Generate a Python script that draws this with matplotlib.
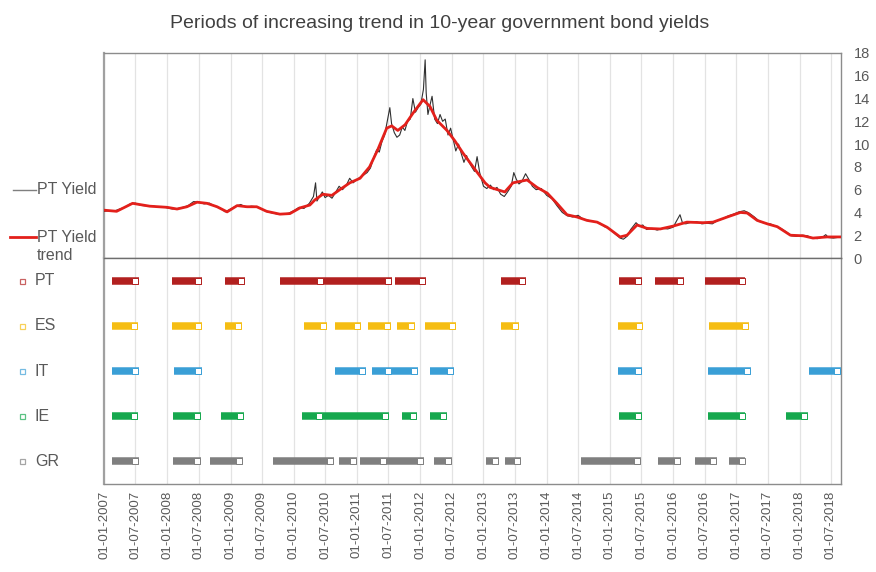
import matplotlib
matplotlib.use("Agg")
import matplotlib.pyplot as plt
import matplotlib.dates as mdates
import matplotlib.transforms as mtransforms
from matplotlib.lines import Line2D
import numpy as np
import pandas as pd

plt.rcParams['font.family'] = ['Liberation Sans', 'DejaVu Sans']

# ---------------- data ----------------
trend_dates = ["2007-01-01", "2007-03-15", "2007-06-15", "2007-09-22", "2008-01-01", "2008-02-27",
               "2008-04-24", "2008-06-21", "2008-08-18", "2008-10-15", "2008-12-12", "2009-02-08",
               "2009-04-06", "2009-06-01", "2009-07-28", "2009-10-13", "2009-12-10", "2010-02-06",
               "2010-04-04", "2010-05-03", "2010-06-18", "2010-08-09", "2010-09-24", "2010-11-21",
               "2011-01-19", "2011-03-15", "2011-05-01", "2011-06-22", "2011-07-21", "2011-08-25",
               "2011-10-06", "2011-11-20", "2012-01-18", "2012-02-27", "2012-04-06", "2012-06-04",
               "2012-07-19", "2012-09-05", "2012-11-02", "2013-01-10", "2013-02-08", "2013-05-04",
               "2013-06-20", "2013-09-10", "2013-11-06", "2014-01-04", "2014-03-01", "2014-04-28",
               "2014-06-25", "2014-08-22", "2014-10-19", "2014-12-16", "2015-03-01", "2015-04-10",
               "2015-06-07", "2015-08-04", "2015-10-19", "2016-01-01", "2016-03-21", "2016-06-22",
               "2016-08-19", "2016-11-09", "2017-01-24", "2017-03-04", "2017-05-01", "2017-06-28",
               "2017-08-25", "2017-11-09", "2018-01-22", "2018-03-19", "2018-06-09", "2018-08-28"]
trend_values = [4.2, 4.1, 4.8, 4.55, 4.45, 4.3,
                4.5, 4.9, 4.8, 4.5, 4.05, 4.6,
                4.5, 4.5, 4.1, 3.85, 3.9, 4.4,
                4.65, 5.1, 5.6, 5.5, 6.0, 6.6,
                7.0, 8.0, 9.5, 11.4, 11.6, 11.2,
                11.7, 12.7, 13.9, 13.3, 12.1, 11.2,
                10.3, 9.2, 8.0, 6.6, 6.2, 5.8,
                6.6, 6.85, 6.2, 5.7, 4.8, 3.8,
                3.6, 3.3, 3.15, 2.7, 1.85, 2.0,
                2.9, 2.6, 2.55, 2.8, 3.15, 3.1,
                3.15, 3.6, 4.0, 3.95, 3.3, 3.0,
                2.75, 2.0, 1.95, 1.75, 1.85, 1.85]

raw_dates = ["2007-01-01", "2007-02-01", "2007-03-01", "2007-04-01", "2007-05-01", "2007-06-01",
             "2007-07-01", "2007-08-01", "2007-09-01", "2007-10-01", "2007-11-01", "2007-12-01",
             "2008-01-01", "2008-02-01", "2008-03-01", "2008-04-01", "2008-05-01", "2008-06-01",
             "2008-07-01", "2008-08-01", "2008-09-01", "2008-10-01", "2008-11-01", "2008-12-01",
             "2009-01-01", "2009-02-01", "2009-03-01", "2009-04-01", "2009-05-01", "2009-06-01",
             "2009-07-01", "2009-08-01", "2009-09-01", "2009-10-01", "2009-11-01", "2009-12-01",
             "2010-01-01", "2010-02-01", "2010-03-01", "2010-04-01", "2010-04-25", "2010-05-07",
             "2010-05-15", "2010-06-01", "2010-06-15", "2010-07-01", "2010-07-20", "2010-08-10",
             "2010-09-01", "2010-09-20", "2010-10-10", "2010-11-01", "2010-11-20", "2010-12-10",
             "2011-01-01", "2011-01-20", "2011-02-10", "2011-03-01", "2011-03-20", "2011-04-10",
             "2011-04-25", "2011-05-10", "2011-05-25", "2011-06-10", "2011-06-25", "2011-07-10",
             "2011-07-20", "2011-08-05", "2011-08-20", "2011-09-05", "2011-09-20", "2011-10-05",
             "2011-10-20", "2011-11-05", "2011-11-20", "2011-12-05", "2011-12-20", "2012-01-05",
             "2012-01-20", "2012-01-30", "2012-02-05", "2012-02-15", "2012-02-28", "2012-03-10",
             "2012-03-25", "2012-04-10", "2012-04-25", "2012-05-10", "2012-05-25", "2012-06-10",
             "2012-06-25", "2012-07-10", "2012-07-25", "2012-08-10", "2012-08-25", "2012-09-10",
             "2012-09-25", "2012-10-10", "2012-10-25", "2012-11-10", "2012-11-25", "2012-12-10",
             "2013-01-01", "2013-01-20", "2013-02-10", "2013-03-01", "2013-03-20", "2013-04-10",
             "2013-05-01", "2013-05-20", "2013-06-10", "2013-06-25", "2013-07-10", "2013-07-25",
             "2013-08-10", "2013-09-01", "2013-09-20", "2013-10-10", "2013-11-01", "2013-12-01",
             "2014-01-01", "2014-02-01", "2014-03-01", "2014-04-01", "2014-05-01", "2014-06-01",
             "2014-07-01", "2014-08-01", "2014-09-01", "2014-10-01", "2014-11-01", "2014-12-01",
             "2015-01-01", "2015-02-01", "2015-03-01", "2015-03-20", "2015-04-10", "2015-05-01",
             "2015-06-01", "2015-06-20", "2015-07-10", "2015-08-01", "2015-09-01", "2015-10-01",
             "2015-11-01", "2015-12-01", "2016-01-01", "2016-02-10", "2016-02-25", "2016-03-15",
             "2016-04-15", "2016-05-15", "2016-06-15", "2016-07-15", "2016-08-15", "2016-09-15",
             "2016-10-15", "2016-11-15", "2016-12-15", "2017-01-15", "2017-02-15", "2017-03-15",
             "2017-04-15", "2017-05-15", "2017-06-15", "2017-07-15", "2017-08-15", "2017-09-15",
             "2017-10-15", "2017-11-15", "2017-12-15", "2018-01-15", "2018-02-15", "2018-03-15",
             "2018-04-15", "2018-05-15", "2018-06-01", "2018-06-15", "2018-07-15", "2018-08-28"]
raw_values = [4.10, 4.15, 4.12, 4.30, 4.45, 4.75,
              4.82, 4.62, 4.58, 4.60, 4.50, 4.52,
              4.40, 4.30, 4.35, 4.45, 4.60, 4.95,
              4.92, 4.75, 4.82, 4.55, 4.40, 4.05,
              4.30, 4.55, 4.70, 4.45, 4.55, 4.50,
              4.30, 4.05, 3.95, 3.85, 3.88, 3.92,
              4.15, 4.45, 4.35, 4.80, 5.40, 6.60,
              5.00, 5.45, 5.80, 5.30, 5.50, 5.25,
              5.80, 6.30, 6.00, 6.40, 7.00, 6.60,
              6.90, 7.10, 7.30, 7.50, 7.90, 8.90,
              9.50, 9.30, 10.20, 10.80, 12.00, 13.20,
              11.80, 11.00, 10.60, 10.80, 11.50, 11.20,
              12.00, 12.20, 14.00, 12.80, 13.20, 13.50,
              14.80, 17.40, 14.50, 12.60, 13.50, 14.20,
              12.20, 11.80, 12.60, 12.00, 12.20, 10.80,
              11.40, 10.40, 9.40, 10.00, 9.20, 8.40,
              9.00, 8.40, 8.00, 7.60, 8.90, 7.50,
              6.30, 6.10, 6.40, 6.00, 6.20, 5.60,
              5.40, 5.80, 6.30, 7.50, 6.90, 6.50,
              6.70, 7.40, 6.90, 6.30, 6.00, 6.10,
              5.50, 5.20, 4.60, 4.00, 3.70, 3.60,
              3.75, 3.40, 3.30, 3.20, 3.10, 2.75,
              2.55, 2.10, 1.75, 1.65, 1.90, 2.50,
              3.10, 2.80, 2.90, 2.50, 2.60, 2.45,
              2.60, 2.55, 2.70, 3.80, 3.05, 3.00,
              3.15, 3.20, 3.00, 3.05, 3.00, 3.30,
              3.45, 3.70, 3.85, 4.05, 4.15, 3.95,
              3.60, 3.20, 3.05, 3.00, 2.80, 2.60,
              2.30, 1.95, 1.90, 2.00, 1.95, 1.75,
              1.70, 1.85, 2.05, 1.80, 1.75, 1.85]

countries = ["PT", "ES", "IT", "IE", "GR"]
colors = ["#b2201f", "#f5bd13", "#3a9fd6", "#16a84e", "#7f7f7f"]

pt_periods = [("2007-02-16", "2007-07-20"), ("2008-01-28", "2008-07-19"), ("2008-11-30", "2009-03-24"),
              ("2009-10-13", "2010-06-24"), ("2010-06-24", "2011-07-21"), ("2011-08-08", "2012-02-04"),
              ("2013-04-12", "2013-09-04"), ("2015-02-24", "2015-07-05"), ("2015-09-19", "2016-03-04"),
              ("2016-07-04", "2017-02-22")]
es_periods = [("2007-02-16", "2007-07-14"), ("2008-01-28", "2008-07-19"), ("2008-11-30", "2009-03-07"),
              ("2010-02-28", "2010-07-11"), ("2010-08-26", "2011-01-25"), ("2011-03-04", "2011-07-15"),
              ("2011-08-19", "2011-12-02"), ("2012-01-29", "2012-07-25"), ("2013-04-12", "2013-07-25"),
              ("2015-02-18", "2015-07-11"), ("2016-07-27", "2017-03-15")]
it_periods = [("2007-02-16", "2007-07-20"), ("2008-02-09", "2008-07-19"), ("2010-08-26", "2011-02-23"),
              ("2011-03-27", "2011-07-21"), ("2011-07-21", "2011-12-19"), ("2012-02-27", "2012-07-14"),
              ("2015-02-18", "2015-07-05"), ("2016-07-21", "2017-03-26"), ("2018-02-26", "2018-08-26")]
ie_periods = [("2007-02-16", "2007-07-14"), ("2008-02-03", "2008-07-13"), ("2008-11-07", "2009-03-18"),
              ("2010-02-18", "2010-06-18"), ("2010-06-18", "2011-07-03"), ("2011-09-18", "2011-12-13"),
              ("2012-02-27", "2012-06-04"), ("2015-02-24", "2015-07-05"), ("2016-07-21", "2017-02-22"),
              ("2017-10-15", "2018-02-20")]
gr_periods = [("2007-02-16", "2007-07-20"), ("2008-02-03", "2008-07-13"), ("2008-09-04", "2009-03-12"),
              ("2009-09-03", "2010-08-20"), ("2010-09-19", "2011-01-02"), ("2011-01-19", "2011-06-22"),
              ("2011-06-22", "2012-01-23"), ("2012-03-20", "2012-07-03"), ("2013-01-16", "2013-04-01"),
              ("2013-05-04", "2013-08-06"), ("2014-07-17", "2015-07-01"), ("2015-10-06", "2016-02-17"),
              ("2016-05-07", "2016-09-12"), ("2016-11-20", "2017-02-22")]
all_periods = [pt_periods, es_periods, it_periods, ie_periods, gr_periods]

title = "Periods of increasing trend in 10-year government bond yields"
x_start, x_end = "2007-01-01", "2018-08-28"
yticks = [0, 2, 4, 6, 8, 10, 12, 14, 16, 18]

# ---------------- figure ----------------
W, H = 876, 572
fig = plt.figure(figsize=(W / 100, H / 100), dpi=100)
left, right = 104 / W, 841 / W
top_y, mid_y, bot_y = 53, 258, 484
ax1 = fig.add_axes([left, 1 - mid_y / H, right - left, (mid_y - top_y) / H])
ax2 = fig.add_axes([left, 1 - bot_y / H, right - left, (bot_y - mid_y) / H], sharex=ax1)

text_col = "#595959"
grid_col = "#e3e3e3"
frame_col = "#8c8c8c"

td = pd.to_datetime(trend_dates)
rd = pd.to_datetime(raw_dates)
ax1.plot(rd, raw_values, color="#303030", lw=0.8, zorder=3)
ax1.plot(td, trend_values, color="#e3201b", lw=2.0, zorder=4, solid_joinstyle="round")
ax1.set_ylim(0, 18)
ax1.set_yticks(yticks)
ax1.yaxis.tick_right()
ax1.tick_params(axis="y", length=0, pad=9, labelsize=10.5, labelcolor=text_col)
ax1.tick_params(axis="x", length=0, labelbottom=False)

xl = (pd.Timestamp(x_start), pd.Timestamp(x_end))
for ax in (ax1, ax2):
    ax.set_xlim(xl)
    ax.xaxis.set_major_locator(mdates.MonthLocator(bymonth=[1, 7]))
    ax.xaxis.set_major_formatter(mdates.DateFormatter("%d-%m-%Y"))
    ax.grid(axis="x", color=grid_col, lw=0.9, zorder=0)
    for s in ax.spines.values():
        s.set_color(frame_col)
        s.set_linewidth(1.0)
    ax.spines["left"].set_linewidth(1.6)
    ax.spines["left"].set_color("#a0a0a0")

# bottom panel
ax2.set_ylim(4.5, -0.5)
ax2.set_yticks([])
ax2.tick_params(axis="x", length=0, pad=5, labelsize=9.5, labelcolor=text_col, rotation=90)
ax2.spines["top"].set_color("#6e6e6e")

for row, (periods, col) in enumerate(zip(all_periods, colors)):
    for s, e in periods:
        xs = [pd.Timestamp(s), pd.Timestamp(e)]
        ax2.plot(xs, [row, row], color=col, lw=5.4, solid_capstyle="butt", zorder=3)
        off = mtransforms.offset_copy(ax2.transData, fig=fig, x=-2.8, y=0, units="points")
        ax2.plot([pd.Timestamp(e)], [row], marker="s", ms=4.2, mfc="white", mec=col, mew=0.7,
                 transform=off, zorder=4, clip_on=True)

# left-side legend labels (bottom panel)
blend = mtransforms.blended_transform_factory(fig.transFigure, ax2.transData)
for row, (c, col) in enumerate(zip(countries, colors)):
    ax2.plot([22 / W], [row], marker="s", ms=3.6, mfc="white", mec=col, mew=0.9, alpha=0.7,
             transform=blend, clip_on=False)
    ax2.text(35 / W, row, c, transform=blend, va="center", ha="left",
             fontsize=11.5, color=text_col)

# left-side legend (top panel)
fig.add_artist(Line2D([13 / W, 36 / W], [1 - 190 / H, 1 - 190 / H], color="#7f7f7f", lw=1.0))
fig.text(37 / W, 1 - 190 / H, "PT Yield", va="center", ha="left", fontsize=11.5, color=text_col)
fig.add_artist(Line2D([10 / W, 36 / W], [1 - 237 / H, 1 - 237 / H], color="#e3201b", lw=2.0))
fig.text(37 / W, 1 - 237 / H, "PT Yield", va="center", ha="left", fontsize=11.5, color=text_col)
fig.text(37 / W, 1 - 255 / H, "trend", va="center", ha="left", fontsize=11.5, color=text_col)

fig.text(440 / W, 1 - 23 / H, title, ha="center", va="center", fontsize=14, color="#404040")

fig.savefig("out.png", dpi=100)
